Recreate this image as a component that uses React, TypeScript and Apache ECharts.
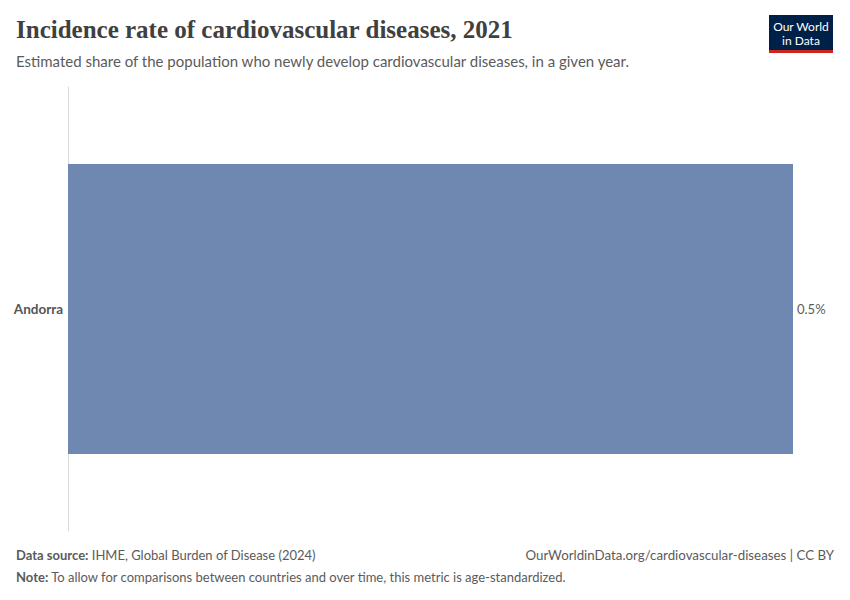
import React, { useEffect, useRef } from "react";
import * as echarts from "echarts";

const categories: string[] = ["Andorra"];
const values: number[] = [0.5];
const valueLabels: string[] = ["0.5%"];

const titleText = "Incidence rate of cardiovascular diseases, 2021";
const subtitleText =
  "Estimated share of the population who newly develop cardiovascular diseases, in a given year.";
const sourceText = "IHME, Global Burden of Disease (2024)";
const noteText =
  "To allow for comparisons between countries and over time, this metric is age-standardized.";
const urlText = "OurWorldinData.org/cardiovascular-diseases | CC BY";

export default function App() {
  const ref = useRef<HTMLDivElement>(null);
  useEffect(() => {
    document.body.style.margin = "0";
    const chart = echarts.init(ref.current!, undefined, { renderer: "svg" });
    chart.setOption({
      animation: false,
      backgroundColor: "#ffffff",
      grid: { left: 68, right: 57, top: 87, bottom: 69, containLabel: false },
      xAxis: {
        type: "value",
        min: 0,
        max: Math.max(...values),
        show: false,
      },
      yAxis: {
        type: "category",
        data: categories,
        axisLine: { show: true, lineStyle: { color: "#dadada", width: 1 } },
        axisTick: { show: false },
        axisLabel: {
          color: "#555555",
          fontFamily: "Lato",
          fontWeight: "bold",
          fontSize: 13.5,
          margin: 5,
        },
      },
      series: [
        {
          type: "bar",
          data: values,
          barWidth: 290,
          itemStyle: { color: "#6f88b1" },
          label: {
            show: true,
            position: "right",
            distance: 4,
            color: "#5b5b5b",
            fontFamily: "Lato",
            fontSize: 13,
            formatter: (p: any) => valueLabels[p.dataIndex],
          },
        },
      ],
      graphic: [
        {
          type: "text",
          left: 16,
          top: 17,
          style: {
            text: titleText,
            fontFamily: "Liberation Serif",
            fontSize: 25,
            fontWeight: "bold",
            fill: "#404040",
          },
        },
        {
          type: "text",
          left: 16,
          top: 53,
          style: {
            text: subtitleText,
            fontFamily: "Lato",
            fontSize: 15,
            fill: "#5b5b5b",
          },
        },
        {
          type: "group",
          left: 769,
          top: 15,
          children: [
            { type: "rect", shape: { x: 0, y: 0, width: 64, height: 35 }, style: { fill: "#002147" } },
            { type: "rect", shape: { x: 0, y: 35, width: 64, height: 3 }, style: { fill: "#ce261e" } },
            {
              type: "text",
              x: 32,
              y: 11,
              style: {
                text: "Our World",
                fontFamily: "Lato",
                fontSize: 12,
                fill: "#ffffff",
                align: "center",
                verticalAlign: "middle",
              },
            },
            {
              type: "text",
              x: 32,
              y: 25,
              style: {
                text: "in Data",
                fontFamily: "Lato",
                fontSize: 12,
                fill: "#ffffff",
                align: "center",
                verticalAlign: "middle",
              },
            },
          ],
        },
        {
          type: "text",
          left: 16,
          top: 548,
          style: {
            text: "{b|Data source:} " + sourceText,
            fontFamily: "Lato",
            fontSize: 13,
            fill: "#5b5b5b",
            rich: { b: { fontWeight: "bold", fontFamily: "Lato", fontSize: 13, fill: "#5b5b5b" } },
          },
        },
        {
          type: "text",
          right: 16,
          top: 548,
          style: {
            text: urlText,
            fontFamily: "Lato",
            fontSize: 13.3,
            fill: "#5b5b5b",
          },
        },
        {
          type: "text",
          left: 16,
          top: 570,
          style: {
            text: "{b|Note:} " + noteText,
            fontFamily: "Lato",
            fontSize: 13,
            fill: "#5b5b5b",
            rich: { b: { fontWeight: "bold", fontFamily: "Lato", fontSize: 13, fill: "#5b5b5b" } },
          },
        },
      ],
    });
    return () => chart.dispose();
  }, []);
  return (
    <div
      ref={ref}
      style={{ position: "absolute", left: 0, top: 0, width: 850, height: 600 }}
    />
  );
}
